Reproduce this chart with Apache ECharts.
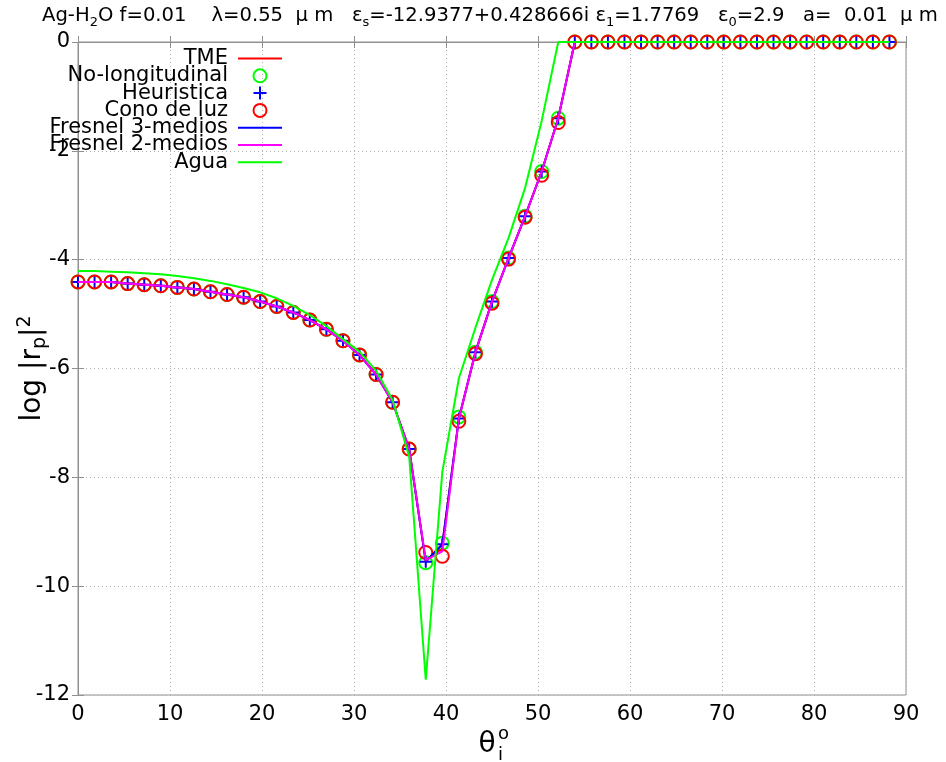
<!DOCTYPE html>
<html>
<head>
<meta charset="utf-8">
<script src="https://cdn.jsdelivr.net/npm/echarts@6/dist/echarts.min.js"></script>
<style>
  html, body { margin: 0; padding: 0; background: #fff; }
  #chart { width: 946px; height: 762px; }
</style>
</head>
<body>
<div id="chart"></div>
<script>
// incidence angles (deg)
const theta = [0, 1.8, 3.6, 5.4, 7.2, 9.0, 10.8, 12.6, 14.4, 16.2,
  18.0, 19.8, 21.6, 23.4, 25.2, 27.0, 28.8, 30.6, 32.4, 34.2,
  36.0, 37.8, 39.6, 41.4, 43.2, 45.0, 46.8, 48.6, 50.4, 52.2,
  54.0, 55.8, 57.6, 59.4, 61.2, 63.0, 64.8, 66.6, 68.4, 70.2,
  72.0, 73.8, 75.6, 77.4, 79.2, 81.0, 82.8, 84.6, 86.4, 88.2];

// log |rp|^2 per model
const tme = [-4.41, -4.41, -4.41, -4.44, -4.46, -4.48, -4.51, -4.54, -4.59, -4.64,
  -4.69, -4.77, -4.86, -4.97, -5.11, -5.28, -5.49, -5.75, -6.11, -6.62,
  -7.48, -9.55, -9.23, -6.92, -5.70, -4.77, -3.97, -3.20, -2.38, -1.40,
  0, 0, 0, 0, 0, 0, 0, 0, 0, 0, 0, 0, 0, 0, 0, 0, 0, 0, 0, 0];
const noLongitudinal = [-4.41, -4.41, -4.41, -4.44, -4.46, -4.48, -4.51, -4.54, -4.59, -4.64,
  -4.69, -4.77, -4.86, -4.97, -5.11, -5.28, -5.49, -5.75, -6.11, -6.62,
  -7.48, -9.57, -9.21, -6.89, -5.70, -4.77, -3.97, -3.20, -2.38, -1.40,
  0, 0, 0, 0, 0, 0, 0, 0, 0, 0, 0, 0, 0, 0, 0, 0, 0, 0, 0, 0];
const heuristica = [-4.41, -4.41, -4.41, -4.44, -4.46, -4.48, -4.51, -4.54, -4.59, -4.64,
  -4.69, -4.77, -4.86, -4.97, -5.11, -5.28, -5.49, -5.75, -6.11, -6.62,
  -7.48, -9.55, -9.23, -6.92, -5.70, -4.77, -3.97, -3.20, -2.38, -1.40,
  0, 0, 0, 0, 0, 0, 0, 0, 0, 0, 0, 0, 0, 0, 0, 0, 0, 0, 0, 0];
const conoDeLuz = [-4.41, -4.41, -4.41, -4.44, -4.46, -4.48, -4.51, -4.54, -4.59, -4.64,
  -4.69, -4.77, -4.86, -4.97, -5.11, -5.28, -5.49, -5.75, -6.11, -6.62,
  -7.48, -9.38, -9.45, -6.97, -5.73, -4.80, -3.99, -3.22, -2.45, -1.48,
  0, 0, 0, 0, 0, 0, 0, 0, 0, 0, 0, 0, 0, 0, 0, 0, 0, 0, 0, 0];
const fresnel3 = [-4.41, -4.41, -4.41, -4.44, -4.46, -4.48, -4.51, -4.54, -4.59, -4.64,
  -4.69, -4.77, -4.86, -4.97, -5.11, -5.28, -5.49, -5.75, -6.11, -6.62,
  -7.48, -9.55, -9.23, -6.92, -5.70, -4.77, -3.97, -3.20, -2.38, -1.40,
  0, 0, 0, 0, 0, 0, 0, 0, 0, 0, 0, 0, 0, 0, 0, 0, 0, 0, 0, 0];
const fresnel2 = [-4.41, -4.41, -4.41, -4.44, -4.46, -4.48, -4.51, -4.54, -4.59, -4.64,
  -4.69, -4.77, -4.86, -4.97, -5.11, -5.28, -5.49, -5.75, -6.11, -6.62,
  -7.48, -9.52, -9.36, -6.92, -5.70, -4.77, -3.97, -3.20, -2.38, -1.40,
  0, 0, 0, 0, 0, 0, 0, 0, 0, 0, 0, 0, 0, 0, 0, 0, 0, 0, 0, 0];
const agua = [-4.21, -4.21, -4.22, -4.23, -4.25, -4.27, -4.30, -4.34, -4.39, -4.45,
  -4.52, -4.60, -4.71, -4.85, -5.02, -5.22, -5.46, -5.69, -6.04, -6.58,
  -7.62, -11.72, -7.90, -6.18, -5.25, -4.37, -3.60, -2.68, -1.45, 0,
  0, 0, 0, 0, 0, 0, 0, 0, 0, 0, 0, 0, 0, 0, 0, 0, 0, 0, 0, 0];

const FONT = 'DejaVu Sans';
const PLUS = 'path://M0,6H12M6,0V12';
const LINE_ICON = 'path://M0,0H22V1H0Z';
const GRID_LINE = { show: true, lineStyle: { color: '#b0b0b0', type: [1, 3], width: 1 } };
const BORDER = '#909090';

const pts = ys => theta.map((t, i) => [t, ys[i]]);

function lineSeries(name, ys, color) {
  return {
    name, type: 'line', data: pts(ys), symbol: 'none',
    lineStyle: { color, width: 2 }, itemStyle: { color },
    animation: false
  };
}

function markSeries(name, ys, symbol, color, size) {
  return {
    name, type: 'scatter', data: pts(ys), symbol, symbolSize: size,
    itemStyle: { color: 'rgba(0,0,0,0)', borderColor: color, borderWidth: 2, opacity: 1 },
    animation: false
  };
}

const chart = echarts.init(document.getElementById('chart'));

chart.setOption({
  backgroundColor: '#fff',
  title: {
    left: 42, top: 3, padding: 0,
    text: 'Ag-H{s|2}O f=0.01    λ=0.55  μ m   ε{s|s}=-12.9377+0.428666i ε{s|1}=1.7769   ε{s|0}=2.9   a=  0.01  μ m',
    textStyle: {
      fontFamily: FONT, fontSize: 19.6, fontWeight: 'normal', color: '#000', lineHeight: 26,
      rich: { s: { fontFamily: FONT, fontSize: 13, lineHeight: 13, verticalAlign: 'bottom', color: '#000' } }
    }
  },
  legend: {
    orient: 'vertical', align: 'right', padding: 0,
    right: 664, top: 48,
    itemWidth: 44, itemHeight: 13, itemGap: -3.7,
    textStyle: { fontFamily: FONT, fontSize: 21, color: '#000', padding: [0, 5, 0, 0] },
    data: [
      { name: 'TME', icon: LINE_ICON },
      { name: 'No-longitudinal' },
      { name: 'Heuristica' },
      { name: 'Cono de luz' },
      { name: 'Fresnel 3-medios', icon: LINE_ICON },
      { name: 'Fresnel 2-medios', icon: LINE_ICON },
      { name: 'Agua', icon: LINE_ICON }
    ]
  },
  grid: {
    left: 78, right: 40, top: 42, bottom: 67, outerBoundsMode: 'none', containLabel: false,
    show: true, borderColor: BORDER, borderWidth: 1
  },
  xAxis: [{
    type: 'value', min: 0, max: 90, interval: 10,
    axisLine: { show: true, lineStyle: { color: BORDER } },
    axisTick: { show: true, inside: true, length: 6, lineStyle: { color: BORDER } },
    axisLabel: { fontFamily: FONT, fontSize: 21, color: '#000', margin: 9 },
    splitLine: GRID_LINE
  }, {
    type: 'value', min: 0, max: 90, interval: 10, position: 'top',
    axisLine: { show: false },
    axisTick: { show: true, inside: true, length: 6, lineStyle: { color: BORDER } },
    axisLabel: { show: false }, splitLine: { show: false }
  }],
  yAxis: [{
    type: 'value', min: -12, max: 0, interval: 2,
    name: 'log |r{sub|p}|{sup|2}', nameLocation: 'middle', nameGap: 28, nameMoveOverlap: false,
    nameTextStyle: {
      fontFamily: FONT, fontSize: 28, color: '#000', lineHeight: 34,
      rich: {
        sub: { fontFamily: FONT, fontSize: 19, lineHeight: 19, verticalAlign: 'bottom', color: '#000' },
        sup: { fontFamily: FONT, fontSize: 19, lineHeight: 19, verticalAlign: 'top', color: '#000' }
      }
    },
    axisLine: { show: true, lineStyle: { color: BORDER } },
    axisTick: { show: true, inside: true, length: 6, lineStyle: { color: BORDER } },
    axisLabel: { fontFamily: FONT, fontSize: 21, color: '#000', margin: 8 },
    splitLine: GRID_LINE
  }, {
    type: 'value', min: -12, max: 0, interval: 2, position: 'right',
    axisLine: { show: false },
    axisTick: { show: true, inside: true, length: 6, lineStyle: { color: BORDER } },
    axisLabel: { show: false }, splitLine: { show: false }
  }],
  graphic: [
    { type: 'text', x: 487, y: 745, style: { text: 'θ', fontFamily: FONT, fontSize: 28, fill: '#000', align: 'center', verticalAlign: 'middle' } },
    { type: 'text', x: 498, y: 734, style: { text: 'o', fontFamily: FONT, fontSize: 18, fill: '#000', align: 'left', verticalAlign: 'middle' } },
    { type: 'text', x: 498, y: 755, style: { text: 'i', fontFamily: FONT, fontSize: 18, fill: '#000', align: 'left', verticalAlign: 'middle' } }
  ],
  series: [
    lineSeries('TME', tme, '#ff0000'),
    markSeries('No-longitudinal', noLongitudinal, 'circle', '#00ff00', 13),
    markSeries('Heuristica', heuristica, PLUS, '#0000ff', 12),
    markSeries('Cono de luz', conoDeLuz, 'circle', '#ff0000', 13),
    lineSeries('Fresnel 3-medios', fresnel3, '#0000ff'),
    lineSeries('Fresnel 2-medios', fresnel2, '#ff00ff'),
    lineSeries('Agua', agua, '#00ff00')
  ]
});
</script>
</body>
</html>
